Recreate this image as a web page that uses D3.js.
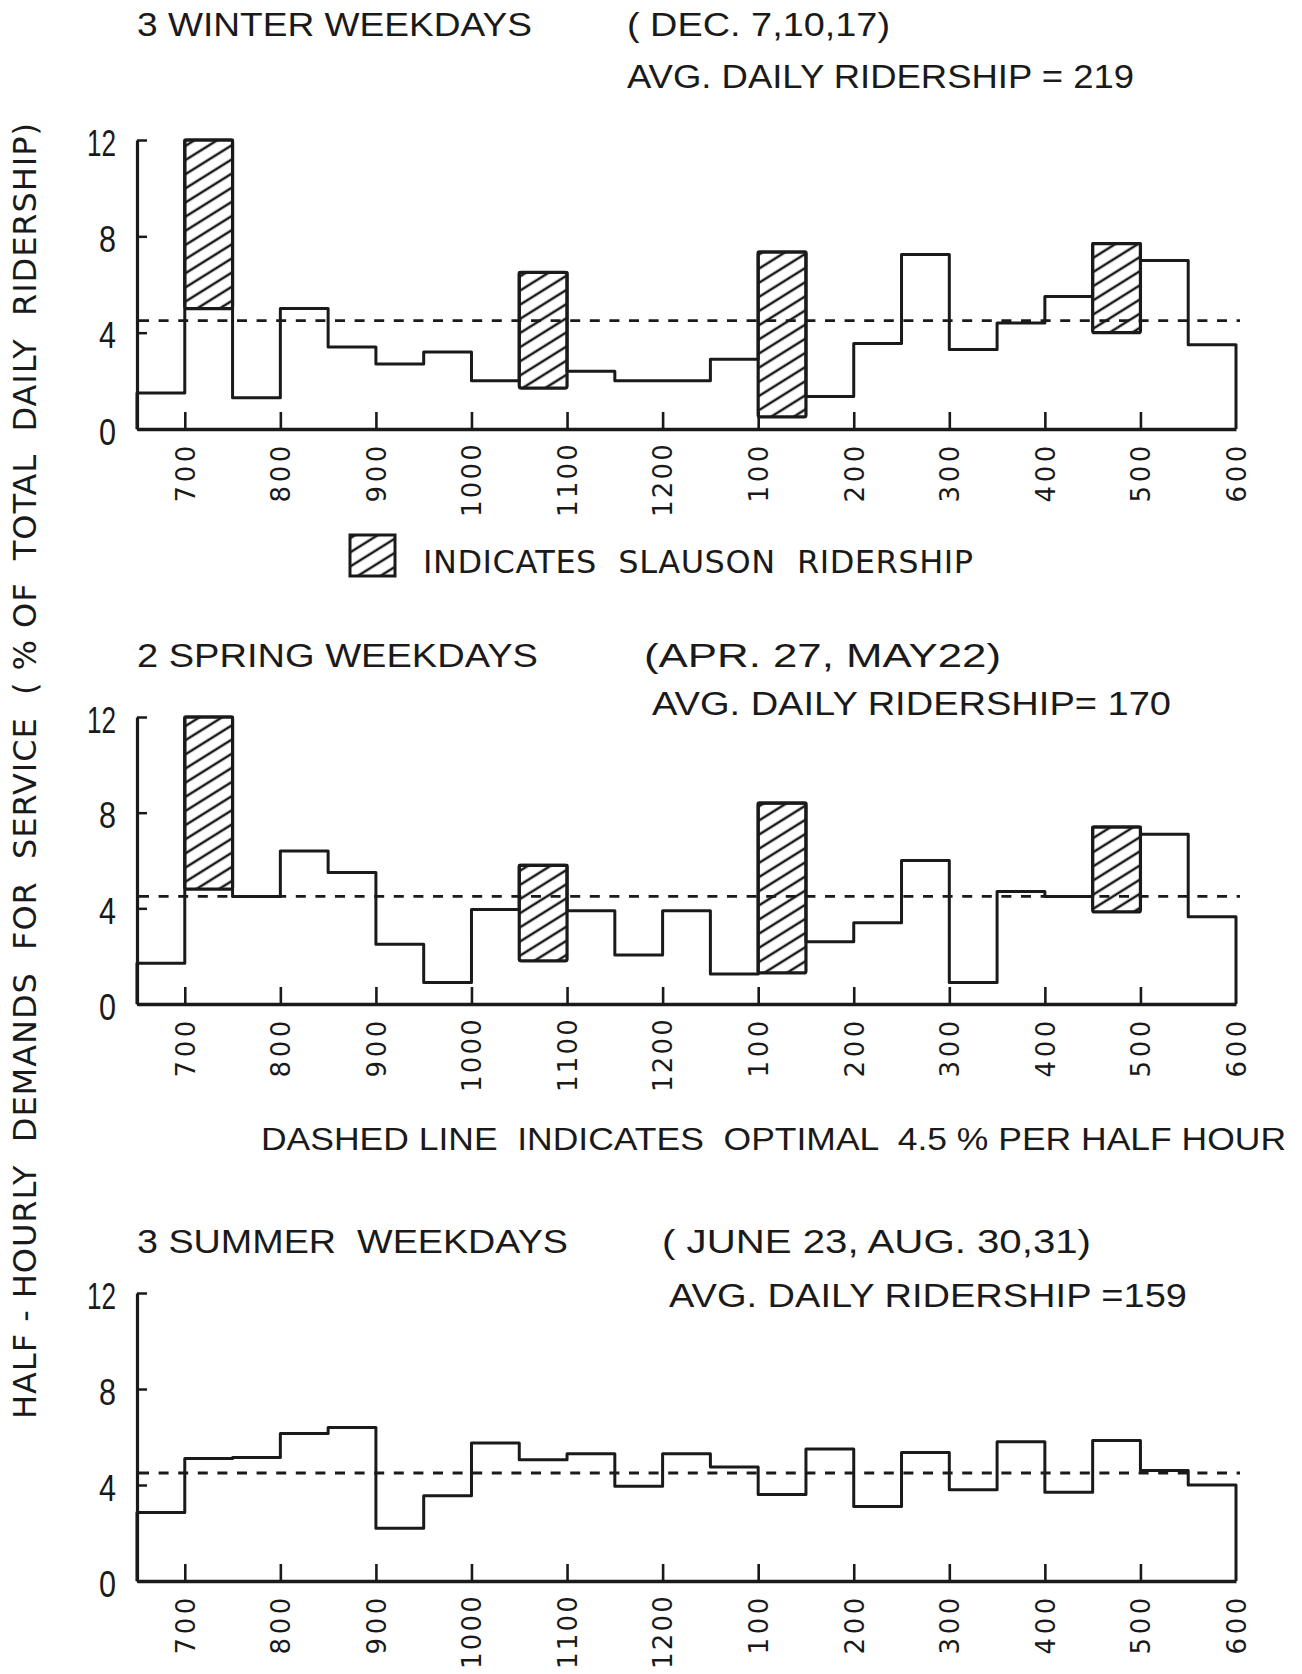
<!DOCTYPE html>
<html>
<head>
<meta charset="utf-8">
<script src="https://cdn.jsdelivr.net/npm/d3@7"></script>
<style>
  html, body { margin: 0; padding: 0; background: #fff; }
  svg { display: block; }
</style>
</head>
<body>
<svg id="chart" width="1302" height="1674"></svg>
<script>
// Half-hour periods, given as the decimal hour at which each period starts (6:30 AM to 5:30 PM)
const periods = [6.5, 7, 7.5, 8, 8.5, 9, 9.5, 10, 10.5, 11, 11.5, 12,
                 12.5, 13, 13.5, 14, 14.5, 15, 15.5, 16, 16.5, 17, 17.5];
const dayStart = 6.5;
const dayEnd = 18;
const hourTicks = [7, 8, 9, 10, 11, 12, 13, 14, 15, 16, 17, 18];
const hourLabels = ["700", "800", "900", "1000", "1100", "1200", "100", "200", "300", "400", "500", "600"];
const shareTicks = [0, 4, 8, 12];
const optimalShare = 4.5;

// Winter weekdays: % of total daily ridership per half hour
const winterShare = [1.5, 12.0, 1.3, 5.0, 3.4, 2.7, 3.2, 2.0, 6.5, 2.4, 2.0, 2.0,
                     2.9, 7.35, 1.35, 3.55, 7.25, 3.3, 4.4, 5.5, 7.7, 7.0, 3.5];
// Slauson ridership blocks (period start, lower and upper share)
const winterSlausonStart = [7, 10.5, 13, 16.5];
const winterSlausonLow   = [5.0, 1.7, 0.5, 4.0];
const winterSlausonHigh  = [12.0, 6.5, 7.35, 7.7];

// Spring weekdays
const springShare = [1.7, 12.0, 4.5, 6.4, 5.5, 2.5, 0.9, 3.95, 5.8, 3.9, 2.05, 3.9,
                     1.25, 8.4, 2.6, 3.4, 6.0, 0.9, 4.7, 4.5, 7.4, 7.1, 3.65];
const springSlausonStart = [7, 10.5, 13, 16.5];
const springSlausonLow   = [4.8, 1.8, 1.3, 3.85];
const springSlausonHigh  = [12.0, 5.8, 8.4, 7.4];

// Summer weekdays
const summerShare = [2.85, 5.1, 5.15, 6.15, 6.4, 2.2, 3.55, 5.75, 5.05, 5.3, 3.95, 5.3,
                     4.75, 3.6, 5.5, 3.1, 5.35, 3.8, 5.8, 3.7, 5.85, 4.6, 4.0];
const summerSlausonStart = [];
const summerSlausonLow   = [];
const summerSlausonHigh  = [];

const INK = "#1a1a1a";
const TITLE_FONT = "'Liberation Sans', Arial, sans-serif";
const ROUND_FONT = "'DejaVu Sans', Verdana, sans-serif";

const svg = d3.select("#chart");
svg.append("rect").attr("width", 1302).attr("height", 1674).attr("fill", "#fff");

// Diagonal hatching used for the Slauson blocks
const defs = svg.append("defs");
const hatch = defs.append("pattern")
  .attr("id", "hatch")
  .attr("patternUnits", "userSpaceOnUse")
  .attr("width", 14).attr("height", 12)
  .attr("patternTransform", "rotate(-32)");
hatch.append("line")
  .attr("x1", -1).attr("y1", 6).attr("x2", 15).attr("y2", 6)
  .attr("stroke", INK).attr("stroke-width", 2.5);

const x = d3.scaleLinear().domain([dayStart, dayEnd]).range([137, 1236]);

function addText(str, px, baseline, length, size, family, adjust) {
  return svg.append("text")
    .attr("x", px).attr("y", baseline)
    .attr("font-family", family)
    .attr("font-size", size)
    .attr("fill", INK)
    .attr("textLength", length)
    .attr("lengthAdjust", adjust || "spacingAndGlyphs")
    .style("white-space", "pre")
    .text(str);
}

const panels = [
  { share: winterShare, sStart: winterSlausonStart, sLow: winterSlausonLow, sHigh: winterSlausonHigh,
    base: 429, top: 140 },
  { share: springShare, sStart: springSlausonStart, sLow: springSlausonLow, sHigh: springSlausonHigh,
    base: 1004, top: 717 },
  { share: summerShare, sStart: summerSlausonStart, sLow: summerSlausonLow, sHigh: summerSlausonHigh,
    base: 1581, top: 1293 }
];

panels.forEach(p => {
  const y = d3.scaleLinear().domain([0, 12]).range([p.base, p.top]);
  const g = svg.append("g");

  // Slauson blocks
  const blocks = p.sStart.map((s, i) => ({ s, lo: p.sLow[i], hi: p.sHigh[i] }));
  g.selectAll("rect.slauson").data(blocks).join("rect")
    .attr("class", "slauson")
    .attr("x", d => x(d.s))
    .attr("width", d => x(d.s + 0.5) - x(d.s))
    .attr("y", d => y(d.hi))
    .attr("height", d => y(d.lo) - y(d.hi))
    .attr("fill", "url(#hatch)")
    .attr("stroke", INK).attr("stroke-width", 3.2)
    .attr("rx", 2);

  // Half-hourly share as a step line, closed down to zero at the end of the day
  const pts = [[dayStart, 0]].concat(periods.map((t, i) => [t, p.share[i]]));
  pts.push([dayEnd, p.share[p.share.length - 1]]);
  pts.push([dayEnd, 0]);
  const step = d3.line().x(d => x(d[0])).y(d => y(d[1])).curve(d3.curveStepAfter);
  g.append("path")
    .attr("d", step(pts))
    .attr("fill", "none")
    .attr("stroke", INK).attr("stroke-width", 3)
    .attr("stroke-linejoin", "round");

  // Optimal 4.5 % reference line
  g.append("line")
    .attr("x1", x(dayStart) + 2).attr("x2", x(dayEnd) + 4)
    .attr("y1", y(optimalShare)).attr("y2", y(optimalShare))
    .attr("stroke", INK).attr("stroke-width", 2.8)
    .attr("stroke-dasharray", "10,9.6");

  // Share axis
  const yAxis = g.append("g")
    .attr("transform", `translate(${x(dayStart)},0)`)
    .call(d3.axisLeft(y).tickValues(shareTicks).tickSizeInner(-10).tickSizeOuter(0).tickPadding(21));
  yAxis.select(".domain").attr("stroke", INK).attr("stroke-width", 3.2);
  yAxis.selectAll(".tick line").attr("stroke", INK).attr("stroke-width", 2.5);
  yAxis.selectAll(".tick text")
    .attr("font-family", TITLE_FONT)
    .attr("font-size", 36)
    .attr("fill", INK)
    .attr("dy", "0.42em")
    .attr("textLength", d => d >= 10 ? 29 : 17)
    .attr("lengthAdjust", "spacingAndGlyphs");

  // Time-of-day axis
  const xAxis = g.append("g")
    .attr("transform", `translate(0,${p.base})`)
    .call(d3.axisBottom(x).tickValues(hourTicks).tickSizeInner(-17).tickSizeOuter(0)
      .tickFormat((d, i) => hourLabels[i]));
  xAxis.select(".domain").attr("stroke", INK).attr("stroke-width", 3.4);
  xAxis.selectAll(".tick line").attr("stroke", INK).attr("stroke-width", 2.6);
  xAxis.selectAll(".tick").filter(d => d === dayEnd).select("line").remove();
  xAxis.selectAll(".tick text")
    .attr("x", 0).attr("y", 0)
    .attr("dy", "0.36em")
    .attr("transform", "translate(0,13) rotate(-90)")
    .attr("text-anchor", "end")
    .attr("font-family", ROUND_FONT)
    .attr("font-size", 26)
    .attr("letter-spacing", function () { return this.textContent.length > 3 ? 2.2 : 3.6; })
    .attr("fill", INK);
});

// Panel headings
addText("3 WINTER WEEKDAYS", 137, 36, 395, 34, TITLE_FONT);
addText("( DEC. 7,10,17)", 627, 36, 263, 34, TITLE_FONT);
addText("AVG. DAILY RIDERSHIP = 219", 627, 88, 507, 34, TITLE_FONT);

addText("2 SPRING WEEKDAYS", 137, 667, 401, 34, TITLE_FONT);
addText("(APR. 27, MAY22)", 644, 667, 357, 34, TITLE_FONT);
addText("AVG. DAILY RIDERSHIP= 170", 652, 715, 519, 34, TITLE_FONT);

addText("DASHED LINE  INDICATES  OPTIMAL  4.5 % PER HALF HOUR", 261, 1150, 1025, 31, TITLE_FONT);

addText("3 SUMMER  WEEKDAYS", 137, 1253, 431, 34, TITLE_FONT);
addText("( JUNE 23, AUG. 30,31)", 662, 1253, 429, 34, TITLE_FONT);
addText("AVG. DAILY RIDERSHIP =159", 669, 1307, 518, 34, TITLE_FONT);

// Legend for the hatched blocks
svg.append("rect")
  .attr("x", 350).attr("y", 535).attr("width", 45).attr("height", 41)
  .attr("fill", "url(#hatch)")
  .attr("stroke", INK).attr("stroke-width", 3);
addText("INDICATES  SLAUSON  RIDERSHIP", 423, 573, 550, 32, ROUND_FONT, "spacing");

// Shared vertical axis title
svg.append("text")
  .attr("transform", "translate(36,1419) rotate(-90)")
  .attr("font-family", ROUND_FONT)
  .attr("font-size", 32)
  .attr("fill", INK)
  .attr("textLength", 1296)
  .attr("lengthAdjust", "spacing")
  .style("white-space", "pre")
  .text("HALF - HOURLY  DEMANDS  FOR  SERVICE  ( % OF  TOTAL  DAILY  RIDERSHIP)");
</script>
</body>
</html>
